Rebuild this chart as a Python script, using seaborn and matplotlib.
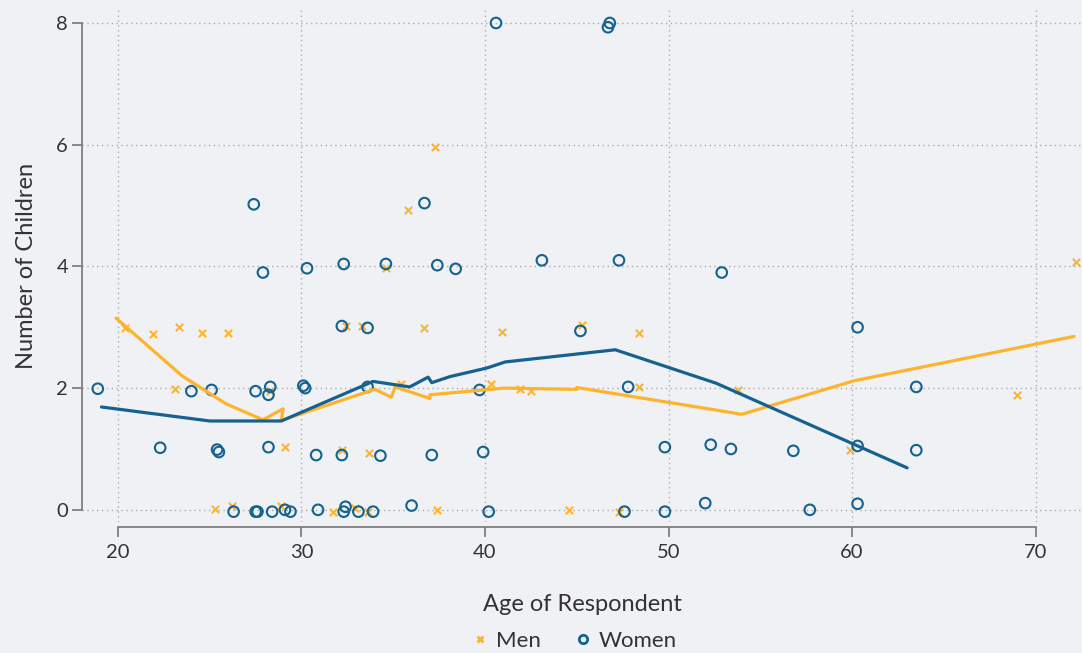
import matplotlib
matplotlib.use("Agg")
import matplotlib.pyplot as plt
from matplotlib.lines import Line2D
import seaborn as sns
import pandas as pd

# scatter data (age, number of children)
women_age = [40.6, 46.7, 46.8, 27.4, 36.7, 27.9, 30.3, 32.3, 34.6, 37.4, 38.4, 43.1, 47.3, 52.9,
             32.2, 33.6, 45.2, 60.3,
             18.9, 24.0, 25.1, 27.5, 28.3, 28.2, 30.1, 30.2, 33.6, 39.7, 47.8, 63.5,
             22.3, 25.4, 25.5, 28.2, 30.8, 32.2, 34.3, 37.1, 39.9, 49.8, 52.3, 53.4, 56.8, 60.3, 63.5,
             26.3, 27.5, 27.6, 28.4, 29.1, 29.4, 30.9, 32.4, 32.3, 33.1, 33.9, 36.0, 40.2, 47.6, 49.8,
             52.0, 57.7, 60.3]
women_kids = [8.0, 7.93, 8.0, 5.02, 5.04, 3.9, 3.97, 4.04, 4.04, 4.02, 3.96, 4.1, 4.1, 3.9,
              3.02, 2.99, 2.94, 3.0,
              1.99, 1.95, 1.97, 1.95, 2.02, 1.89, 2.04, 2.0, 2.02, 1.97, 2.02, 2.02,
              1.02, 0.99, 0.95, 1.03, 0.9, 0.9, 0.89, 0.9, 0.95, 1.03, 1.07, 1.0, 0.97, 1.05, 0.98,
              -0.03, -0.03, -0.03, -0.03, 0.0, -0.03, 0.0, 0.05, -0.03, -0.03, -0.03, 0.07, -0.03, -0.03, -0.03,
              0.11, 0.0, 0.1]

men_age = [37.3, 35.8, 34.6,
           20.4, 21.9, 23.3, 24.6, 26.0, 32.4, 33.3, 36.7, 40.9, 45.3, 48.4,
           23.1, 28.3, 35.4, 40.3, 41.9, 42.5, 48.4, 53.8, 69.0, 72.2,
           29.1, 32.2, 33.7, 59.9,
           25.3, 26.2, 28.9, 31.7, 32.9, 33.6, 37.4, 44.6, 47.3]
men_kids = [5.96, 4.93, 3.97,
            2.99, 2.89, 3.0, 2.91, 2.91, 3.02, 3.02, 2.98, 2.92, 3.03, 2.9,
            1.99, 1.96, 2.07, 2.07, 1.99, 1.95, 2.02, 1.97, 1.89, 4.07,
            1.03, 0.99, 0.94, 0.99,
            0.02, 0.07, 0.07, -0.03, 0.03, -0.03, -0.01, -0.01, -0.03]

# lowess smooth lines
women_line_x = [19.1, 25.0, 28.9, 33.9, 35.9, 36.9, 37.1, 38.1, 40.1, 41.1, 47.1, 52.6, 63.0]
women_line_y = [1.69, 1.46, 1.46, 2.11, 2.02, 2.18, 2.09, 2.19, 2.33, 2.43, 2.63, 2.08, 0.69]
men_line_x = [19.9, 23.5, 25.9, 27.9, 29.0, 28.9, 34.0, 34.9, 35.1, 37.0, 37.0, 41.0, 45.0, 45.0,
              54.0, 60.1, 72.1]
men_line_y = [3.15, 2.2, 1.74, 1.48, 1.66, 1.47, 1.98, 1.85, 2.02, 1.83, 1.89, 2.0, 1.98, 2.01,
              1.57, 2.12, 2.85]

BLUE = "#15628f"
ORANGE = "#fdb42a"
BG = "#eff1f5"
TEXT = "#333333"

df_w = pd.DataFrame({"age": women_age, "kids": women_kids})
df_m = pd.DataFrame({"age": men_age, "kids": men_kids})
line_w = pd.DataFrame({"age": women_line_x, "kids": women_line_y})
line_m = pd.DataFrame({"age": men_line_x, "kids": men_line_y})

sns.set_theme(style="white")
plt.rcParams["font.family"] = ["Lato", "DejaVu Sans"]

fig = plt.figure(figsize=(10.82, 6.53), dpi=100, facecolor=BG)
ax = fig.add_axes([82 / 1082, 131 / 653, 1 - 82 / 1082, (522 - 9) / 653])
ax.set_facecolor(BG)

sns.scatterplot(data=df_m, x="age", y="kids", marker="x", color=ORANGE, s=28,
                linewidth=1.5, ax=ax, zorder=3)
sns.scatterplot(data=df_w, x="age", y="kids", marker="o", s=58, ax=ax, zorder=3)
pts = ax.collections[-1]
pts.set_facecolor("none")
pts.set_edgecolor(BLUE)
pts.set_linewidth(1.5)

sns.lineplot(data=line_m, x="age", y="kids", sort=False, estimator=None, color=ORANGE,
             linewidth=2.3, ax=ax, zorder=4)
sns.lineplot(data=line_w, x="age", y="kids", sort=False, estimator=None, color=BLUE,
             linewidth=2.3, ax=ax, zorder=4)

ax.set_xlim(18.04, 72.53)
ax.set_ylim(-0.2, 8.23)
ax.set_xticks([20, 30, 40, 50, 60, 70])
ax.set_yticks([0, 2, 4, 6, 8])
ax.grid(True, linestyle=(0, (1, 2.5)), color="#aaaaaa", linewidth=1)
ax.set_axisbelow(True)

for side in ["top", "right"]:
    ax.spines[side].set_visible(False)
ax.spines["left"].set_bounds(0, 8)
ax.spines["bottom"].set_bounds(20, 70)
ax.spines["bottom"].set_position(("outward", 3.6))
for side in ["left", "bottom"]:
    ax.spines[side].set_color("#808080")
    ax.spines[side].set_linewidth(1.3)

ax.tick_params(axis="both", which="both", length=7, width=1.3, color="#808080",
               labelsize=14.5, labelcolor=TEXT, direction="out")
ax.tick_params(axis="y", pad=3)
ax.tick_params(axis="x", pad=5)
ax.xaxis.set_ticks_position("bottom")
ax.yaxis.set_ticks_position("left")

ax.set_xlabel("Age of Respondent", fontsize=17, color=TEXT, labelpad=24)
ax.set_ylabel("Number of Children", fontsize=17, color=TEXT, labelpad=14)

handles = [
    Line2D([], [], marker="x", linestyle="none", color=ORANGE, markersize=5, markeredgewidth=2),
    Line2D([], [], marker="o", linestyle="none", markerfacecolor="none", markeredgecolor=BLUE,
           markersize=6, markeredgewidth=2),
]
fig.legend(handles, ["Men", "Women"], loc="center", bbox_to_anchor=(575 / 1082, 1 - 641 / 653),
           ncol=2, frameon=False, fontsize=16, handlelength=0.6, handletextpad=0.4,
           columnspacing=1.6, labelcolor=TEXT)

fig.savefig("out.png", dpi=100, facecolor=BG)
